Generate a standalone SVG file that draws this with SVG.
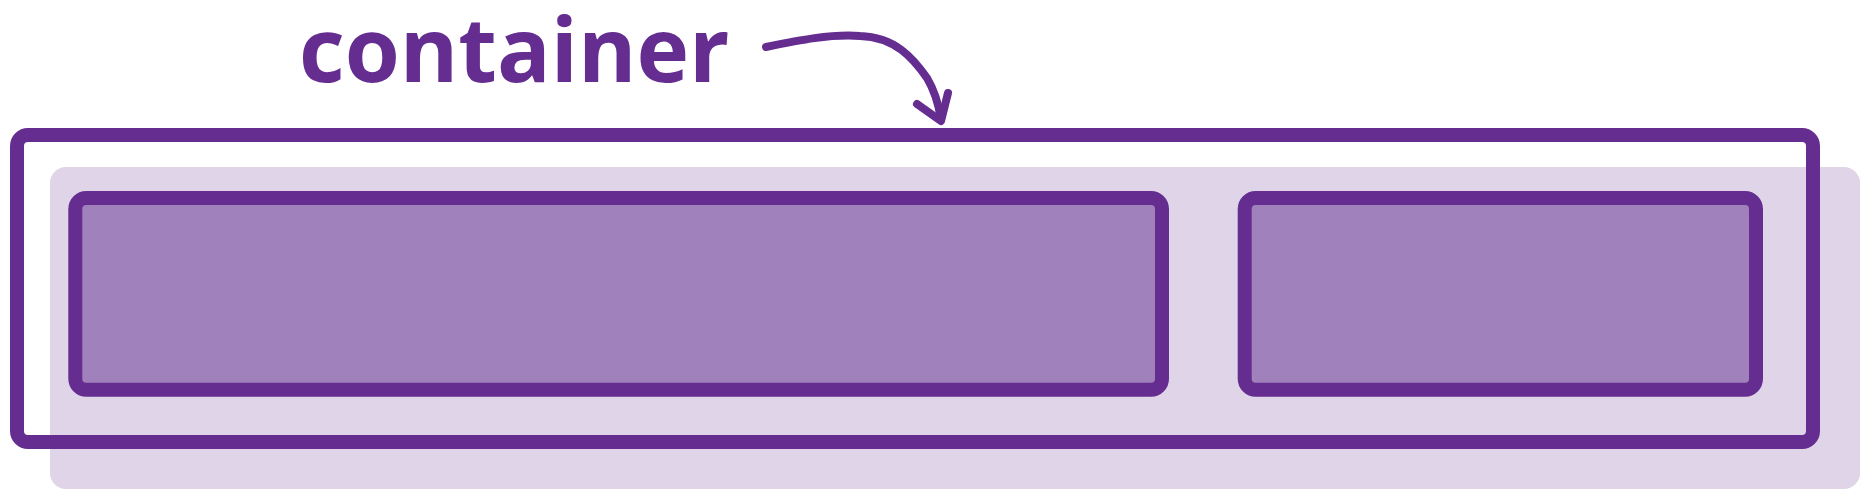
<svg xmlns="http://www.w3.org/2000/svg" width="1870" height="500" viewBox="0 0 1870 500">
<style>
.box{fill:#a181bc;stroke:#652d90;stroke-width:14}
.outer{fill:none;stroke:#652d90;stroke-width:14}
.arrow{fill:none;stroke:#652d90;stroke-width:8;stroke-linecap:round;stroke-linejoin:round}
.label{font-family:"Open Sans","Liberation Sans",sans-serif;font-weight:700;font-size:89px;fill:#652d90}
</style>
<rect width="1870" height="500" fill="#ffffff"/>
<g id="background">
<rect x="50" y="167" width="1810" height="322" rx="16" fill="#dfd4e8"/>
</g>
<g id="item1">
<rect class="box" x="75.3" y="198" width="1086.7" height="191.7" rx="11"/>
</g>
<g id="item2">
<rect class="box" x="1244.7" y="198" width="511.3" height="191.7" rx="11"/>
</g>
<g id="container">
<rect class="outer" x="17" y="135" width="1796" height="307" rx="11"/>
</g>
<g id="label">
<text class="label" x="299" y="81.5">container</text>
</g>
<g id="connectors">
<path class="arrow" d="M766,47 C800,40 830,34 860,36 C895,37 913,58 927,78 C936,93 939,107 941,119"/>
<path class="arrow" d="M917,104 L941,121 L948,93"/>
</g>
</svg>
